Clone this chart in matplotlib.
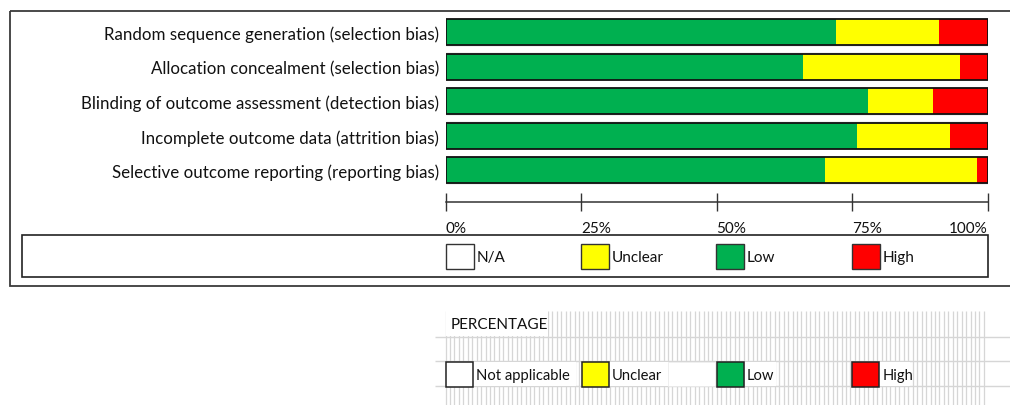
import numpy as np
import matplotlib
matplotlib.use("Agg")
import matplotlib.pyplot as plt
from matplotlib.patches import Rectangle

# ---------------- data ----------------
domains = [
    "Random sequence generation (selection bias)",
    "Allocation concealment (selection bias)",
    "Blinding of outcome assessment (detection bias)",
    "Incomplete outcome data (attrition bias)",
    "Selective outcome reporting (reporting bias)",
]
low = [72, 66, 78, 76, 70]
unclear = [19, 29, 12, 17, 28]
high = [9, 5, 10, 7, 2]
ticks = [0, 25, 50, 75, 100]
tick_labels = ["0%", "25%", "50%", "75%", "100%"]
legend1_labels = ["N/A", "Unclear", "Low", "High"]
legend2_labels = ["Not applicable", "Unclear", "Low", "High"]
legend_colors = ["#FFFFFF", "#FFFF00", "#00B050", "#FF0000"]
section_title = "PERCENTAGE"

FONT = ["Lato", "DejaVu Sans"]
plt.rcParams["font.family"] = FONT

W, H = 1010, 406
fig = plt.figure(figsize=(W / 100, H / 100), dpi=100)
fig.patch.set_facecolor("white")

# overlay axes in pixel coordinates for frames / legends
ov = fig.add_axes([0, 0, 1, 1])
ov.set_xlim(0, W)
ov.set_ylim(H, 0)
ov.axis("off")

# outer frame
ov.add_patch(Rectangle((9.5, 11.5), 1005, 275.5, fill=False, ec="#3a3a3a", lw=1.3))
# legend box 1
ov.add_patch(Rectangle((22, 235.7), 965.7, 42.6, fill=False, ec="#222222", lw=1.2))

# ---------------- bar axes ----------------
px = lambda x: x / W
py = lambda y: 1 - y / H
left_px, right_px = 445.5, 987.5
top_px, bot_px = 16.0, 202.7
ax = fig.add_axes([px(left_px), py(bot_px), px(right_px - left_px), (bot_px - top_px) / H])
ax.patch.set_alpha(0)
unit = 34.5
ymax = -0.5 + (bot_px - top_px) / unit
ax.set_ylim(ymax, -0.5)
ax.set_xlim(0, 100)

y = np.arange(len(domains))
bh = 26 / unit
low_a = np.array(low)
unc_a = np.array(unclear)
high_a = np.array(high)
# shadow line above bars
ax.barh(y - 0.02, 100, height=bh, color="none", edgecolor="#bdbdbd", lw=1.0, zorder=1)
ax.barh(y, low_a, height=bh, color=legend_colors[2], edgecolor="none", zorder=2)
ax.barh(y, unc_a, left=low_a, height=bh, color=legend_colors[1], edgecolor="none", zorder=2)
ax.barh(y, high_a, left=low_a + unc_a, height=bh, color=legend_colors[3], edgecolor="none", zorder=2)
ax.barh(y, 100, height=bh, color="none", edgecolor="#111111", lw=1.3, zorder=3)

for s in ["top", "left", "right"]:
    ax.spines[s].set_visible(False)
ax.spines["bottom"].set_color("#333333")
ax.spines["bottom"].set_linewidth(1.1)
ax.set_yticks(y)
ax.set_yticklabels(domains, fontsize=12.2, color="#111111")
ax.tick_params(axis="y", length=0, pad=4.5)
ax.set_xticks(ticks)
ax.set_xticklabels(tick_labels, fontsize=11, color="#111111")
ax.tick_params(axis="x", direction="inout", length=13.5, width=1.0, color="#333333", pad=7.5)
for i, t in enumerate(ax.get_xticklabels()):
    t.set_ha("right" if i == len(ticks) - 1 else "left")

# legend 1 swatches
sw1_x = [445.5, 580.5, 716.0, 851.5]
for xx, lab, c in zip(sw1_x, legend1_labels, legend_colors):
    ov.add_patch(Rectangle((xx, 244.5), 28, 25.5, fc=c, ec="#333333", lw=1.0))
    ov.text(xx + 31, 258.5, lab, fontsize=11, va="center", ha="left", color="#111111")

# ---------------- lower section (sheet-like grid) ----------------
grid_c = "#d6d6d6"
vx = np.arange(445.5, 988, 4.45)
ov.vlines(vx, 312, H, color=grid_c, lw=0.9, zorder=1)
for hy in [337.5, 362.3, 387.3]:
    ov.hlines(hy, 435, W, color=grid_c, lw=1.0, zorder=1)

# white cells behind texts
for (x0, x1, y0, y1) in [(446, 548, 311, 337), (473, 576, 363, 387), (608, 668, 363, 387),
                         (668, 715, 363, 387), (745, 776, 363, 387), (880, 910, 363, 387)]:
    ov.add_patch(Rectangle((x0, y0), x1 - x0, y1 - y0, fc="white", ec="none", zorder=2))
ov.add_patch(Rectangle((668, 363), 47, 24, fc="none", ec="#ececec", lw=0.6, zorder=2))

ov.text(451, 325, section_title, fontsize=11, va="center", ha="left", color="#111111", zorder=3)
sw2_x = [445.7, 581.7, 716.5, 851.7]
for xx, lab, c in zip(sw2_x, legend2_labels, legend_colors):
    ov.add_patch(Rectangle((xx, 362.5), 27, 25, fc=c, ec="#222222", lw=1.1, zorder=3))
    ov.text(xx + 30.5, 376, lab, fontsize=10.6, va="center", ha="left", color="#111111", zorder=3)

fig.savefig("out.png", dpi=100, facecolor="white")
